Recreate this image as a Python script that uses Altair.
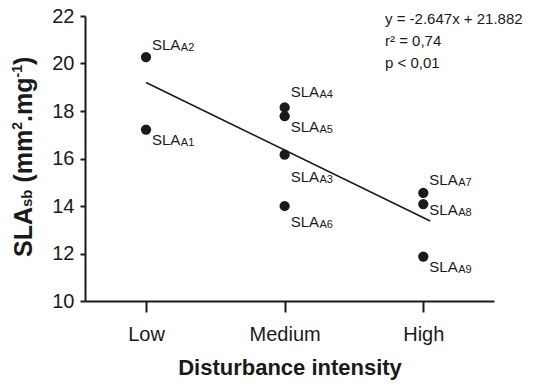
import altair as alt
import pandas as pd

# ---- data ----
categories = ["Low", "Medium", "High"]
names = ["A1", "A2", "A3", "A4", "A5", "A6", "A7", "A8", "A9"]
level = [1, 1, 2, 2, 2, 2, 3, 3, 3]
sla = [17.22, 20.27, 16.16, 18.15, 17.78, 14.0, 14.55, 14.08, 11.87]
line_x = [1.0, 3.05]
line_y = [19.2, 13.37]
stats = ["y = -2.647x + 21.882", "r² = 0,74", "p < 0,01"]

# ---- styling ----
FONT = "Liberation Sans"
INK = "#1a1a1a"
W, H = 409, 285
label_dy = {"A1": 15, "A2": -7, "A3": 27, "A4": -10, "A5": 16,
            "A6": 21, "A7": -8, "A8": 11, "A9": 15}

REG = {"S": .667, "L": .556, "A": .667}
BOLD = {"S": .667, "L": .611, "A": .722, "s": .556, "b": .611, " ": .278,
        "(": .333, "m": .889, "2": .556, ".": .278, "g": .611, "-": .333,
        "1": .556, ")": .333}


def width(s, size, table):
    return sum(table.get(c, .556) for c in s) * size


pts = pd.DataFrame({"name": names, "level": level, "sla": sla})
pts["main"] = "SLA"
pts["sub"] = pts["name"]
lin = pd.DataFrame({"level": line_x, "sla": line_y})

xscale = alt.Scale(domain=[0.56, 3.51], nice=False, zero=False)
yscale = alt.Scale(domain=[10, 22], nice=False, zero=False)
label_expr = "[" + ",".join("'%s'" % c for c in categories) + "][datum.value - 1]"

base_x = alt.X("level:Q", scale=xscale,
               axis=alt.Axis(values=[1, 2, 3], labelExpr=label_expr,
                             title="Disturbance intensity", grid=False,
                             tickSize=11, tickWidth=2, domainWidth=2,
                             labelFontSize=20, labelPadding=12,
                             titleFontSize=22, titleFontWeight="bold",
                             titlePadding=13))
base_y = alt.Y("sla:Q", scale=yscale,
               axis=alt.Axis(values=[10, 12, 14, 16, 18, 20, 22], title=None,
                             grid=False, tickSize=5, tickWidth=2,
                             domainWidth=2, labelFontSize=20, labelPadding=6))

points = alt.Chart(pts).mark_circle(size=105, color=INK, opacity=1).encode(
    x=base_x, y=base_y)

reg = alt.Chart(lin).mark_line(color=INK, strokeWidth=1.6).encode(
    x=base_x, y=base_y)

layers = [reg, points]
for n in names:
    d = label_dy[n]
    sub = pts[pts["name"] == n]
    layers.append(alt.Chart(sub).mark_text(
        align="left", baseline="alphabetic", dx=6, dy=d, fontSize=15,
        font=FONT, color=INK).encode(x=base_x, y=base_y, text="main:N"))
    layers.append(alt.Chart(sub).mark_text(
        align="left", baseline="alphabetic", dx=6 + width("SLA", 15, REG) + 0.5,
        dy=d + 1, fontSize=11, font=FONT, color=INK).encode(
        x=base_x, y=base_y, text="sub:N"))

# stats text, one line per layer
for i, t in enumerate(stats):
    layers.append(alt.Chart(pd.DataFrame({"t": [t]})).mark_text(
        align="left", baseline="alphabetic", fontSize=15, font=FONT, color=INK
    ).encode(x=alt.value(300), y=alt.value(8 + 22 * i), text="t:N"))

# y title built from pieces (rotated); (text, size, baseline shift, gap before)
pieces = [("SLA", 25, 0, 0), ("sb", 15, 0, 0), ("(mm", 25, 0, 0.278 * 25),
          ("2", 14, -10, 0), (".mg", 25, 0, 0), ("-1", 14, -10, 0),
          (")", 25, 0, 0)]
ystart = 241
xbase = -53
for txt, size, shift, gap in pieces:
    ystart -= gap
    layers.append(alt.Chart(pd.DataFrame({"t": [txt]})).mark_text(
        align="left", baseline="alphabetic", angle=270, fontSize=size,
        fontWeight="bold", font=FONT, color=INK).encode(
        x=alt.value(xbase + shift), y=alt.value(ystart), text="t:N"))
    ystart -= width(txt, size, BOLD)

chart = alt.layer(*layers).properties(
    width=W, height=H,
    autosize=alt.AutoSizeParams(type="none"),
    padding={"left": 77, "top": 8, "right": 32, "bottom": 80},
).configure_view(stroke=None).configure_axis(
    domainColor=INK, tickColor=INK, labelColor=INK, titleColor=INK,
    labelFont=FONT, titleFont=FONT
)

chart.save("out.html", embed_options={"renderer": "svg", "actions": False})
